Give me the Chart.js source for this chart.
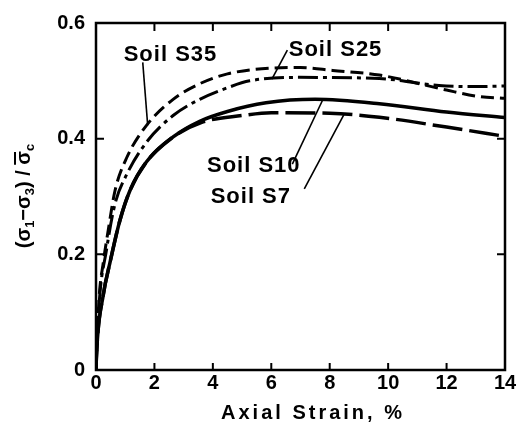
<!DOCTYPE html>
<html>
<head>
<meta charset="utf-8">
<script src="https://cdn.jsdelivr.net/npm/chart.js@4.4.1/dist/chart.umd.min.js"></script>
<style>
  html, body { margin: 0; padding: 0; background: #fff; }
  #wrap { width: 522px; height: 429px; }
</style>
</head>
<body>
<div id="wrap"><canvas id="chart"></canvas></div>
<script>
// values: axial strain (%) vs (s1 - s3) / sc
const strainS35 = [0, 0.1, 0.25, 0.42, 0.65, 1.05, 1.73, 2.64, 3.55, 4.5, 6.0, 7.0, 8.1, 9.7, 12.0, 13.1, 14];
const stressS35 = [0, 0.12, 0.186, 0.242, 0.31, 0.367, 0.423, 0.468, 0.495, 0.512, 0.522, 0.523, 0.518, 0.51, 0.484, 0.473, 0.47];

const strainS25 = [0, 0.1, 0.36, 0.65, 1.05, 1.73, 2.64, 3.55, 4.5, 5.26, 6.96, 9.7, 11.74, 12.9, 14];
const stressS25 = [0, 0.11, 0.208, 0.287, 0.338, 0.394, 0.44, 0.468, 0.488, 0.5, 0.506, 0.504, 0.492, 0.49, 0.491];

const strainS10 = [0, 0.02, 0.25, 0.48, 0.82, 1.16, 1.73, 2.64, 3.55, 4.5, 5.82, 7.5, 9.7, 12, 14];
const stressS10 = [0, 0.03, 0.13, 0.186, 0.259, 0.31, 0.36, 0.403, 0.43, 0.447, 0.462, 0.468, 0.4605, 0.446, 0.4365];

const strainS7 = [0, 0.02, 0.25, 0.48, 0.82, 1.16, 1.73, 2.64, 3.6, 5.0, 6.0, 8.0, 9.7, 12.0, 14];
const stressS7 = [0, 0.03, 0.13, 0.186, 0.259, 0.31, 0.36, 0.403, 0.428, 0.44, 0.445, 0.444, 0.437, 0.42, 0.404];

const xTickValues = [0, 2, 4, 6, 8, 10, 12, 14];
const yTickLabels = { 0: '0', 0.2: '0.2', 0.4: '0.4', 0.6: '0.6' };

const FONT = "'Liberation Sans', Arial, sans-serif";

const toPoints = (xs, ys) => xs.map((x, i) => ({ x, y: ys[i] }));

// curve labels with their leader lines, in data units
const annotations = [
    { text: 'Soil S35', at: [2.55, 0.544], leader: [[1.6, 0.532], [1.77, 0.423]] },
    { text: 'Soil S25', at: [8.2, 0.553], leader: [[6.55, 0.553], [6.02, 0.503]] },
    { text: 'Soil S10', at: [5.4, 0.352], leader: [[6.72, 0.356], [7.75, 0.466]] },
    { text: 'Soil S7', at: [5.3, 0.3], leader: [[7.13, 0.313], [8.5, 0.443]] }
];

const frameAndText = {
    id: 'frameAndText',
    afterDraw(chart) {
        const { ctx, chartArea: a, scales: { x, y } } = chart;
        const px = (v) => x.getPixelForValue(v);
        const py = (v) => y.getPixelForValue(v);
        ctx.save();
        ctx.strokeStyle = '#000';
        ctx.fillStyle = '#000';
        ctx.lineCap = 'butt';

        // frame
        ctx.lineWidth = 2.5;
        ctx.strokeRect(a.left, a.top, a.right - a.left, a.bottom - a.top);

        // inward ticks
        ctx.lineWidth = 2;
        ctx.beginPath();
        xTickValues.slice(1, -1).forEach(v => {
            ctx.moveTo(px(v), a.bottom); ctx.lineTo(px(v), a.bottom - 7);
            ctx.moveTo(px(v), a.top); ctx.lineTo(px(v), a.top + 8);
        });
        [0.2, 0.4].forEach(v => {
            ctx.moveTo(a.left, py(v)); ctx.lineTo(a.left + 8, py(v));
            ctx.moveTo(a.right, py(v)); ctx.lineTo(a.right - 8, py(v));
        });
        ctx.stroke();

        // leaders
        ctx.lineWidth = 1.6;
        annotations.forEach(an => {
            ctx.beginPath();
            ctx.moveTo(px(an.leader[0][0]), py(an.leader[0][1]));
            ctx.lineTo(px(an.leader[1][0]), py(an.leader[1][1]));
            ctx.stroke();
        });

        // curve labels
        ctx.font = `bold 22px ${FONT}`;
        ctx.letterSpacing = '1px';
        ctx.textAlign = 'center';
        ctx.textBaseline = 'middle';
        annotations.forEach(an => ctx.fillText(an.text, px(an.at[0]), py(an.at[1])));

        // x title
        ctx.font = `bold 20px ${FONT}`;
        ctx.letterSpacing = '3px';
        ctx.fillText('Axial Strain, %', 313, 413);

        // y title, rotated, with subscripts and overbar
        ctx.letterSpacing = '0px';
        ctx.translate(24, 196);
        ctx.rotate(-Math.PI / 2);
        const parts = [
            ['(σ', 0], ['1', 1], ['−σ', 0], ['3', 1], [') / ', 0], ['σ', 2], ['c', 1]
        ];
        const big = `bold 20px ${FONT}`;
        const small = `bold 13px ${FONT}`;
        let total = 0;
        parts.forEach(([t, k]) => { ctx.font = k === 1 ? small : big; total += ctx.measureText(t).width; });
        let cx = -total / 2;
        ctx.textAlign = 'left';
        parts.forEach(([t, k]) => {
            ctx.font = k === 1 ? small : big;
            const w = ctx.measureText(t).width;
            ctx.fillText(t, cx, k === 1 ? 6 : 0);
            if (k === 2) {
                ctx.lineWidth = 2;
                ctx.beginPath();
                ctx.moveTo(cx, -9); ctx.lineTo(cx + w - 1, -9);
                ctx.stroke();
            }
            cx += w;
        });
        ctx.restore();
    }
};

const lineStyle = { borderColor: '#000', pointRadius: 0, fill: false, cubicInterpolationMode: 'monotone' };

new Chart(document.getElementById('chart'), {
    type: 'line',
    data: {
        datasets: [
            { label: 'Soil S35', data: toPoints(strainS35, stressS35), borderWidth: 3, borderDash: [13, 6], ...lineStyle },
            { label: 'Soil S25', data: toPoints(strainS25, stressS25), borderWidth: 3, borderDash: [20, 5, 4, 5], ...lineStyle },
            { label: 'Soil S10', data: toPoints(strainS10, stressS10), borderWidth: 3.5, ...lineStyle },
            { label: 'Soil S7', data: toPoints(strainS7, stressS7), borderWidth: 3.5, borderDash: [30, 7], ...lineStyle }
        ]
    },
    options: {
        responsive: true,
        maintainAspectRatio: false,
        animation: false,
        layout: { padding: { top: 15, right: 17, left: 0, bottom: 0 } },
        plugins: { legend: { display: false }, tooltip: { enabled: false } },
        scales: {
            x: {
                type: 'linear', min: 0, max: 14,
                grid: { display: false, drawTicks: false }, border: { display: false },
                ticks: { stepSize: 2, color: '#000', padding: 1, font: { family: FONT, size: 20, weight: 'bold' } },
                afterFit: (s) => { s.height = 59; }
            },
            y: {
                min: 0, max: 0.6,
                grid: { display: false, drawTicks: false }, border: { display: false },
                ticks: {
                    stepSize: 0.2, color: '#000', padding: 11,
                    font: { family: FONT, size: 20, weight: 'bold' },
                    callback: (v) => yTickLabels[Math.round(v * 10) / 10] ?? ''
                },
                afterFit: (s) => { s.width = 96; }
            }
        }
    },
    plugins: [frameAndText]
});
</script>
</body>
</html>
